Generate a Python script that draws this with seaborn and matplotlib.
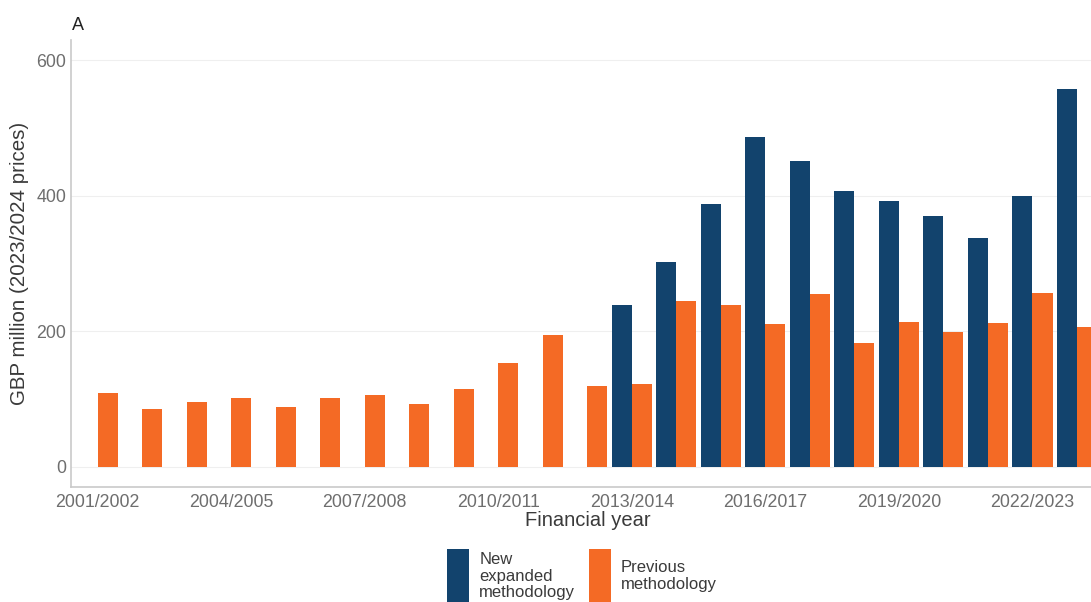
import matplotlib
matplotlib.use("Agg")
import matplotlib.pyplot as plt
import matplotlib.patches as mpatches
from matplotlib.legend_handler import HandlerPatch
import pandas as pd
import seaborn as sns

# Financial years on the x axis
years = [
    "2001/2002", "2002/2003", "2003/2004", "2004/2005", "2005/2006",
    "2006/2007", "2007/2008", "2008/2009", "2009/2010", "2010/2011",
    "2011/2012", "2012/2013", "2013/2014", "2014/2015", "2015/2016",
    "2016/2017", "2017/2018", "2018/2019", "2019/2020", "2020/2021",
    "2021/2022", "2022/2023", "2023/2024",
]

# GBP million, 2023/2024 prices
previous_method = [109, 85, 96, 102, 88, 102, 106, 93, 115, 153, 195, 119,
                   122, 245, 238, 210, 255, 182, 214, 199, 212, 257, 206]

new_method_years = years[12:]
new_method = [238, 302, 388, 487, 452, 407, 393, 370, 337, 400, 558]

NEW = "New\nexpanded\nmethodology"
PREV = "Previous\nmethodology"
series_order = [NEW, PREV]
series_colors = ["#12436D", "#F46A25"]

df = pd.concat([
    pd.DataFrame({"year": new_method_years, "method": NEW, "value": new_method}),
    pd.DataFrame({"year": years, "method": PREV, "value": previous_method}),
], ignore_index=True)

sns.set_theme(style="white")
plt.rcParams["font.family"] = ["Liberation Sans", "DejaVu Sans"]

W, H = 1091, 602
fig = plt.figure(figsize=(W / 100, H / 100), dpi=100)
# panel runs a little past the right edge of the canvas
ax = fig.add_axes([71 / W, 115 / H, 1032.7 / W, 447 / H])

sns.barplot(
    data=df, x="year", y="value", hue="method",
    order=years, hue_order=series_order, palette=series_colors,
    width=0.9, saturation=1, linewidth=0, dodge=True,
    errorbar=None, ax=ax,
)

ax.set_xlim(-0.6, len(years) - 1 + 0.6)
ax.set_ylim(-30, 630)
ax.set_yticks([0, 200, 400, 600])
ax.set_xticks(range(0, len(years), 3))
ax.set_xticklabels(years[::3])

ax.yaxis.grid(True, color="#efefef", linewidth=0.8)
ax.xaxis.grid(False)
ax.set_axisbelow(True)

for side in ("top", "right"):
    ax.spines[side].set_visible(False)
for side in ("left", "bottom"):
    ax.spines[side].set_color("#c9c9c9")
    ax.spines[side].set_linewidth(1.2)

ax.tick_params(axis="x", length=3, width=0.8, color="#c9c9c9", pad=2,
               labelsize=12.8, labelcolor="#6e6e6e")
ax.tick_params(axis="y", length=0, pad=3.5, labelsize=12.8, labelcolor="#6e6e6e")

ax.set_xlabel("Financial year", fontsize=14.5, color="#3a3a3a")
ax.xaxis.set_label_coords(0.5, -0.054)
ax.set_ylabel("GBP million (2023/2024 prices)", fontsize=14.8, color="#3a3a3a")
ax.yaxis.set_label_coords(-0.041, 0.5)

fig.text(72 / W, 1 - 26 / H, "A", fontsize=13, color="#222222",
         ha="left", va="center")

# legend below the panel with tall keys centred on each label
old = ax.get_legend()
handles = list(old.legend_handles)
labels = [t.get_text() for t in old.get_texts()]
old.remove()


def tall_key(legend, orig_handle, xdescent, ydescent, width, height, fontsize):
    key_h = 38.9
    yc = 0.36 * fontsize
    return mpatches.Rectangle((-xdescent, yc - key_h / 2), width, key_h)


leg = fig.legend(
    handles, labels, ncol=2, loc="center",
    bbox_to_anchor=(582 / W, 1 - 576 / H),
    frameon=False, fontsize=12, handlelength=1.32, handletextpad=0.6,
    columnspacing=0.8, borderpad=0,
    handler_map={mpatches.Patch: HandlerPatch(patch_func=tall_key)},
)
for t in leg.get_texts():
    t.set_color("#3a3a3a")
    t.set_linespacing(1.1)

fig.savefig("out.png", dpi=100)
